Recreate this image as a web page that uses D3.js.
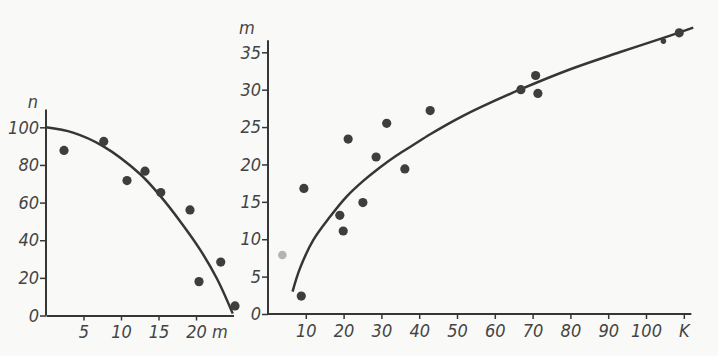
<!DOCTYPE html>
<html>
<head>
<meta charset="utf-8">
<script src="https://cdn.jsdelivr.net/npm/d3@7"></script>
<style>
  html, body { margin: 0; padding: 0; background: #f9f9f7; }
  svg { display: block; }
  .tick text, .lbl { font-family: "DejaVu Sans Condensed", "DejaVu Sans", sans-serif; font-stretch: condensed; font-style: italic; font-size: 18px; fill: #444; }
</style>
</head>
<body>
<script>
// ---------- Left panel: n vs m ----------
const leftXTicks = [5, 10, 15, 20];
const leftYTicks = [0, 20, 40, 60, 80, 100];
const leftDotsM = [2.4, 7.7, 10.8, 13.2, 15.3, 19.2, 20.4, 23.3, 25.2];
const leftDotsN = [87.7, 92.5, 71.7, 76.7, 65.3, 56.1, 18, 28.4, 5.1];
const leftCurveM = [0, 3.6, 7.6, 12.5, 15.2, 17.9, 20.5, 22.8, 24.9];
const leftCurveN = [100, 97.2, 90, 75.3, 63.7, 50, 35.3, 19.5, 1];

// ---------- Right panel: m vs K ----------
const rightXTicks = [10, 20, 30, 40, 50, 60, 70, 80, 90, 100, 110];
const rightXTickLabels = ["10", "20", "30", "40", "50", "60", "70", "80", "90", "100", "K"];
const rightYTicks = [0, 5, 10, 15, 20, 25, 30, 35];
const rightDotsK = [8.8, 9.5, 19.0, 19.9, 21.2, 25.1, 28.6, 31.4, 36.2, 42.9, 66.9, 70.8, 71.4, 104.6, 108.8];
const rightDotsM = [2.4, 16.8, 13.2, 11.1, 23.4, 14.9, 21.0, 25.5, 19.4, 27.2, 30.0, 31.9, 29.5, 36.5, 37.6];
const rightDotsSmall = [false, false, false, false, false, false, false, false, false, false, false, false, false, true, false];
const rightFaintK = [3.8];
const rightFaintM = [7.9];
const rightCurveK = [6.5, 8.45, 12, 16.4, 20.8, 25.2, 29.6, 34, 38.4, 42.8, 47.2, 51.6, 56, 66.6, 79.8, 93, 106.2, 112.5];
const rightCurveM = [3.0, 6.1, 9.9, 13.0, 15.7, 17.8, 19.6, 21.2, 22.6, 24.0, 25.3, 26.5, 27.6, 30.0, 32.7, 35.0, 37.2, 38.3];

const W = 718, H = 356;
const ink = "#363636";
const svg = d3.select("body").append("svg").attr("width", W).attr("height", H);
svg.append("rect").attr("width", W).attr("height", H).attr("fill", "#f9f9f7");

function styleAxis(g) {
  g.selectAll(".domain").attr("stroke", ink).attr("stroke-width", 2);
  g.selectAll(".tick line").attr("stroke", ink).attr("stroke-width", 1.5);
}

// Left panel scales
const lx = d3.scaleLinear().domain([0, 25]).range([46, 233.5]);
const ly = d3.scaleLinear().domain([0, 100]).range([315.5, 127.3]);
const lp = svg.append("g");

lp.append("path")
  .attr("d", `M${lx(0)},${ly(0)}V${ly(109.5)}`)
  .attr("stroke", ink).attr("stroke-width", 2).attr("fill", "none");
lp.append("g").attr("transform", `translate(0,${ly(0)})`)
  .call(d3.axisBottom(lx).tickValues(leftXTicks).tickSize(5).tickPadding(5).tickSizeOuter(0))
  .call(styleAxis);
lp.append("g").attr("transform", `translate(${lx(0)},0)`)
  .call(d3.axisLeft(ly).tickValues(leftYTicks).tickSize(6).tickPadding(1).tickSizeOuter(0))
  .call(g => g.select(".domain").remove())
  .call(styleAxis);
lp.append("text").attr("class", "lbl").attr("x", 220).attr("y", 338).attr("text-anchor", "middle").text("m");
lp.append("text").attr("class", "lbl").attr("x", 33).attr("y", 108).attr("text-anchor", "middle").text("n");

const leftCurve = leftCurveM.map((m, i) => [m, leftCurveN[i]]);
lp.append("path")
  .datum(leftCurve)
  .attr("d", d3.line().x(d => lx(d[0])).y(d => ly(d[1])).curve(d3.curveCatmullRom))
  .attr("fill", "none").attr("stroke", ink).attr("stroke-width", 2.5);

lp.selectAll("circle.d").data(leftDotsM.map((m, i) => [m, leftDotsN[i]])).join("circle")
  .attr("cx", d => lx(d[0])).attr("cy", d => ly(d[1])).attr("r", 4.6).attr("fill", "#3e3e3e");

// Right panel scales
const rx = d3.scaleLinear().domain([0, 100]).range([268, 646]);
const ry = d3.scaleLinear().domain([0, 35]).range([314, 52.3]);
const rp = svg.append("g");

rp.append("path")
  .attr("d", `M${rx(0)},${ry(0)}V${ry(36.6)}`)
  .attr("stroke", ink).attr("stroke-width", 2).attr("fill", "none");
rp.append("g").attr("transform", `translate(0,${ry(0)})`)
  .call(d3.axisBottom(rx).tickValues(rightXTicks).tickFormat((d, i) => rightXTickLabels[i]).tickSize(5).tickPadding(5).tickSizeOuter(0))
  .call(g => g.select(".domain").attr("d", `M${rx(0)},0H${rx(112)}`))
  .call(styleAxis);
rp.append("g").attr("transform", `translate(${rx(0)},0)`)
  .call(d3.axisLeft(ry).tickValues(rightYTicks).tickSize(6).tickPadding(1).tickSizeOuter(0))
  .call(g => g.select(".domain").remove())
  .call(styleAxis);
rp.append("text").attr("class", "lbl").attr("x", 247).attr("y", 34).attr("text-anchor", "middle").text("m");

const rightCurve = rightCurveK.map((k, i) => [k, rightCurveM[i]]);
rp.append("path")
  .datum(rightCurve)
  .attr("d", d3.line().x(d => rx(d[0])).y(d => ry(d[1])).curve(d3.curveCatmullRom))
  .attr("fill", "none").attr("stroke", ink).attr("stroke-width", 2.5);

rp.selectAll("circle.f").data(rightFaintK.map((k, i) => [k, rightFaintM[i]])).join("circle")
  .attr("cx", d => rx(d[0])).attr("cy", d => ry(d[1])).attr("r", 4.3).attr("fill", "#b4b4b4");

rp.selectAll("circle.d").data(rightDotsK.map((k, i) => [k, rightDotsM[i], rightDotsSmall[i]])).join("circle")
  .attr("cx", d => rx(d[0])).attr("cy", d => ry(d[1])).attr("r", d => d[2] ? 2.8 : 4.6).attr("fill", "#3e3e3e");
</script>
</body>
</html>
